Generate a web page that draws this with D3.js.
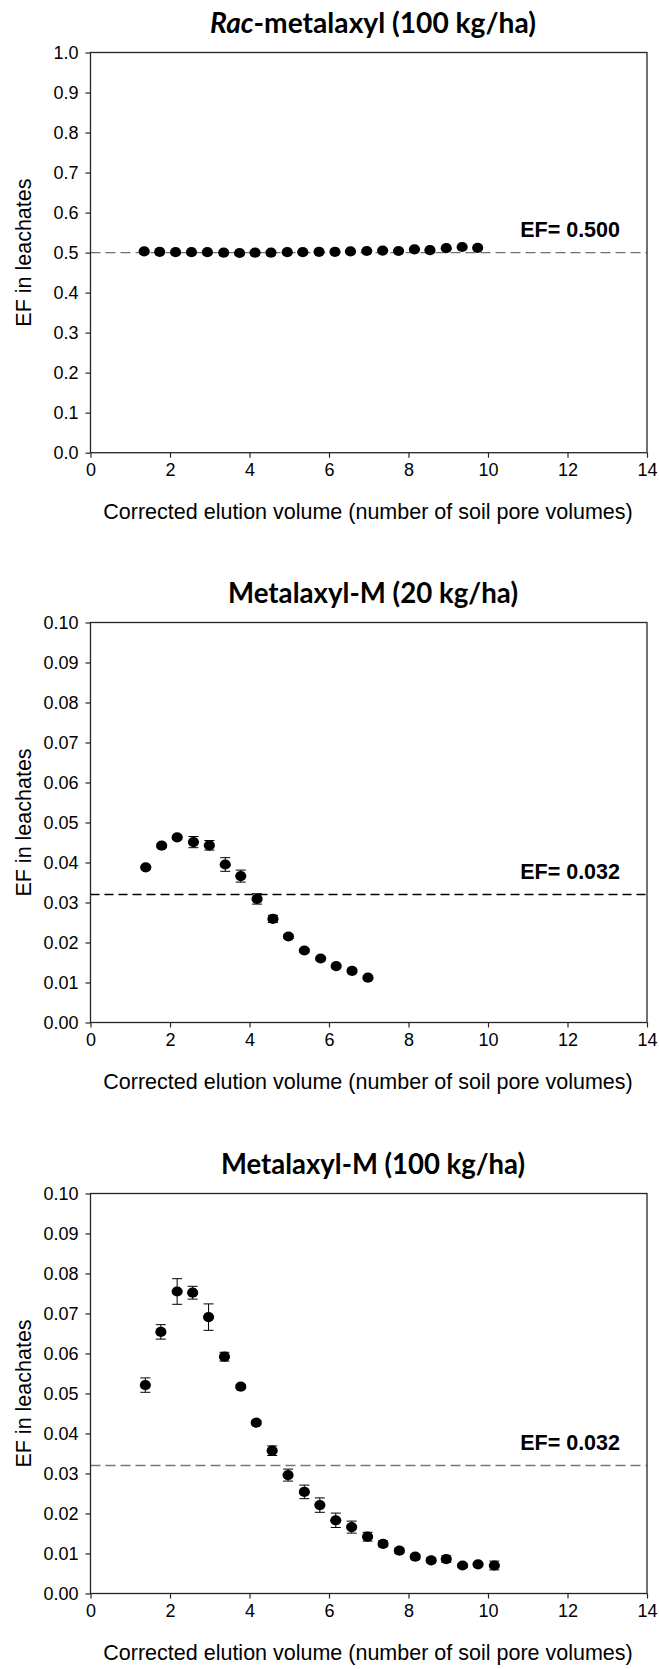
<!DOCTYPE html>
<html>
<head>
<meta charset="utf-8">
<script src="https://cdn.jsdelivr.net/npm/d3@7"></script>
<style>
  body { margin: 0; background: #fff; }
  svg { display: block; }
  .tick text { font-family: "Liberation Sans", Arial, sans-serif; font-size: 18px; fill: #000; }
  .axis-label { font-family: "Liberation Sans", Arial, sans-serif; font-size: 21.5px; fill: #000; }
  .ef-label { font-family: "Liberation Sans", Arial, sans-serif; font-size: 21.5px; font-weight: bold; }
  .chart-title { font-family: Lato, "Open Sans", sans-serif; font-size: 28px; font-weight: bold; }
</style>
</head>
<body>
<div id="main"></div>
<script>
//
// data
//
const xTicks = [0, 2, 4, 6, 8, 10, 12, 14];
const yTicksRac = [0.0, 0.1, 0.2, 0.3, 0.4, 0.5, 0.6, 0.7, 0.8, 0.9, 1.0];
const yTicksM = [0.00, 0.01, 0.02, 0.03, 0.04, 0.05, 0.06, 0.07, 0.08, 0.09, 0.10];

// Rac-metalaxyl (100 kg/ha)
const racX = [1.35, 1.74, 2.14, 2.54, 2.94, 3.35, 3.75, 4.14, 4.54, 4.95, 5.34,
              5.75, 6.15, 6.54, 6.95, 7.35, 7.75, 8.15, 8.54, 8.95, 9.35, 9.74];
const racY = [0.503, 0.502, 0.501, 0.501, 0.501, 0.500, 0.499, 0.500, 0.500, 0.501, 0.501,
              0.502, 0.502, 0.503, 0.504, 0.505, 0.504, 0.508, 0.506, 0.511, 0.514, 0.512];

// Metalaxyl-M (20 kg/ha)
const m20X = [1.39, 1.79, 2.18, 2.59, 2.99, 3.39, 3.78, 4.19, 4.59, 4.98, 5.38, 5.79, 6.18, 6.58, 6.98];
const m20Y = [0.0388, 0.0442, 0.0463, 0.0451, 0.0443, 0.0395, 0.0366, 0.0309, 0.0259,
              0.0215, 0.0180, 0.0160, 0.0141, 0.0129, 0.0112];
const m20Err = [0.0004, 0.0005, 0.0005, 0.0014, 0.0012, 0.0017, 0.0015, 0.0013, 0.0009,
                0.0005, 0.0004, 0.0004, 0.0004, 0.0004, 0.0004];

// Metalaxyl-M (100 kg/ha)
const m100X = [1.38, 1.77, 2.18, 2.57, 2.97, 3.37, 3.78, 4.17, 4.57, 4.97, 5.38, 5.77,
               6.17, 6.57, 6.97, 7.36, 7.77, 8.17, 8.57, 8.95, 9.36, 9.75, 10.16];
const m100Y = [0.0521, 0.0654, 0.0755, 0.0752, 0.0691, 0.0592, 0.0517, 0.0427, 0.0357, 0.0296,
               0.0254, 0.0221, 0.0183, 0.0166, 0.0142, 0.0124, 0.0107, 0.0092, 0.0083, 0.0086,
               0.0070, 0.0073, 0.0070];
const m100Err = [0.0018, 0.0018, 0.0032, 0.0016, 0.0033, 0.0011, 0.0005, 0.0005, 0.0012, 0.0015,
                 0.0017, 0.0018, 0.0018, 0.0015, 0.0011, 0.0007, 0.0006, 0.0006, 0.0006, 0.0008,
                 0.0005, 0.0005, 0.0011];

const xTitle = 'Corrected elution volume (number of soil pore volumes)';
const yTitle = 'EF in leachates';

let main;

window.onload = function () {
    main = d3.select('#main');

    const svg = main.append('svg')
        .attr('width', 659)
        .attr('height', 1669);

    buildChart(svg, {
        top: 52.5, bottom: 452.7,
        title: [{t: 'Rac', italic: true}, {t: '-metalaxyl (100 kg/ha)'}],
        titleY: 33, titleLen: 326,
        x: racX, y: racY, err: null,
        yMax: 1.0, yTicks: yTicksRac, yFmt: d3.format('.1f'),
        ef: 0.5, efText: 'EF= 0.500', efColor: '#6f6f7f', dash: '10,5'
    });

    buildChart(svg, {
        top: 622.5, bottom: 1022.5,
        title: [{t: 'Metalaxyl-M (20 kg/ha)'}],
        titleY: 602.5, titleLen: 290,
        x: m20X, y: m20Y, err: m20Err,
        yMax: 0.10, yTicks: yTicksM, yFmt: d3.format('.2f'),
        ef: 0.032, efText: 'EF= 0.032', efColor: '#000', dash: '9,5'
    });

    buildChart(svg, {
        top: 1193.5, bottom: 1593.5,
        title: [{t: 'Metalaxyl-M (100 kg/ha)'}],
        titleY: 1173.5, titleLen: 304,
        x: m100X, y: m100Y, err: m100Err,
        yMax: 0.10, yTicks: yTicksM, yFmt: d3.format('.2f'),
        ef: 0.032, efText: 'EF= 0.032', efColor: '#777', dash: '10,5'
    });
}

function buildChart(svg, c) {
    const left = 90.5, right = 647;
    const frame = '#262626';

    const x_scale = d3.scaleLinear().domain([0, 14]).range([left, right]);
    const y_scale = d3.scaleLinear().domain([0, c.yMax]).range([c.bottom, c.top]);

    const g = svg.append('g');

    // title
    const title = g.append('text')
        .classed('chart-title', true)
        .attr('x', 373)
        .attr('y', c.titleY)
        .attr('text-anchor', 'middle')
        .attr('textLength', c.titleLen)
        .attr('lengthAdjust', 'spacingAndGlyphs');
    c.title.forEach(p => {
        title.append('tspan')
            .style('font-style', p.italic ? 'italic' : 'normal')
            .text(p.t);
    });

    // EF reference line
    g.append('line')
        .attr('x1', left).attr('x2', right)
        .attr('y1', y_scale(c.ef)).attr('y2', y_scale(c.ef))
        .attr('stroke', c.efColor)
        .attr('stroke-width', 1.3)
        .attr('stroke-dasharray', c.dash);

    g.append('text')
        .classed('ef-label', true)
        .attr('x', 620)
        .attr('y', y_scale(c.ef) - 16)
        .attr('text-anchor', 'end')
        .text(c.efText);

    // axes
    const xAxis = g.append('g')
        .attr('transform', `translate(0, ${c.bottom})`)
        .call(d3.axisBottom(x_scale).tickValues(xTicks).tickSize(5).tickPadding(6).tickFormat(d3.format('d')));

    const yAxis = g.append('g')
        .attr('transform', `translate(${left}, 0)`)
        .call(d3.axisLeft(y_scale).tickValues(c.yTicks).tickSize(5).tickPadding(7).tickFormat(c.yFmt));

    [xAxis, yAxis].forEach(a => {
        a.select('.domain').remove();
        a.selectAll('.tick line').attr('stroke', frame).attr('stroke-width', 1.2);
    });

    // plot frame
    g.append('rect')
        .attr('x', left).attr('y', c.top)
        .attr('width', right - left).attr('height', c.bottom - c.top)
        .attr('fill', 'none')
        .attr('stroke', frame)
        .attr('stroke-width', 1.3);

    // axis titles
    g.append('text')
        .classed('axis-label', true)
        .attr('x', 368)
        .attr('y', c.bottom + 66)
        .attr('text-anchor', 'middle')
        .text(xTitle);

    g.append('text')
        .classed('axis-label', true)
        .attr('text-anchor', 'middle')
        .attr('transform', `translate(31, ${(c.top + c.bottom) / 2}) rotate(-90)`)
        .text(yTitle);

    const pts = c.x.map((d, i) => ({x: d, y: c.y[i], e: c.err ? c.err[i] : 0}));

    // error bars
    if (c.err) {
        const eb = g.selectAll('.err')
            .data(pts)
            .join('g')
            .classed('err', true);
        eb.append('line')
            .attr('x1', d => x_scale(d.x)).attr('x2', d => x_scale(d.x))
            .attr('y1', d => y_scale(d.y - d.e)).attr('y2', d => y_scale(d.y + d.e))
            .attr('stroke', '#000').attr('stroke-width', 1);
        [-1, 1].forEach(s => {
            eb.append('line')
                .attr('x1', d => x_scale(d.x) - 5).attr('x2', d => x_scale(d.x) + 5)
                .attr('y1', d => y_scale(d.y + s * d.e)).attr('y2', d => y_scale(d.y + s * d.e))
                .attr('stroke', '#000').attr('stroke-width', 1);
        });
    }

    // markers
    g.selectAll('.dot')
        .data(pts)
        .join('ellipse')
        .classed('dot', true)
        .attr('cx', d => x_scale(d.x))
        .attr('cy', d => y_scale(d.y))
        .attr('rx', 5.6)
        .attr('ry', 5.1)
        .attr('fill', '#000');
}
</script>
</body>
</html>
